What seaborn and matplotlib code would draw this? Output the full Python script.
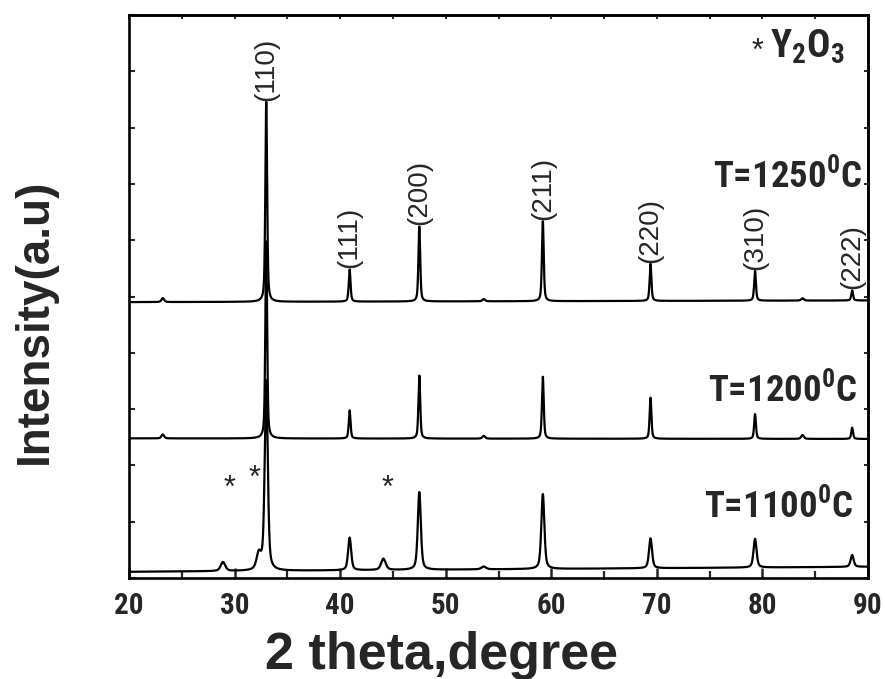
import numpy as np
import pandas as pd
import matplotlib
matplotlib.use("Agg")
import matplotlib.pyplot as plt
from matplotlib import font_manager
from matplotlib.ticker import MultipleLocator
import seaborn as sns

# Diffraction peaks (2-theta positions, Miller indices)
peak_pos = [33.0, 40.9, 47.5, 59.2, 69.4, 79.3, 88.5]
peak_hkl = ["(110)", "(111)", "(200)", "(211)", "(220)", "(310)", "(222)"]

# Peak heights above background for each sintering temperature (a.u.)
height_1250 = [355, 57, 133, 142, 66, 53, 18]
height_1200 = [350, 50, 112, 110, 73, 44, 20]
height_1100 = [337, 58, 138, 133, 53, 51, 21]

# Weak secondary reflections
minor_pos_1250 = [23.2, 53.6, 83.8]
minor_h_1250 = [7, 4, 4]
minor_pos_1200 = [23.2, 53.6, 83.8]
minor_h_1200 = [7, 5, 7]
minor_pos_1100 = [28.9, 32.3, 44.1, 53.6]
minor_h_1100 = [16, 28, 20, 5]

# Y2O3 reflections marked with an asterisk (2-theta, marker height)
y2o3_pos = [29.5, 31.9, 44.5]
y2o3_mark = [158, 176, 158]

# Background level at 20 and 90 degrees for each stacked pattern
background_1250 = [490, 493]
background_1200 = [248, 247]
background_1100 = [11, 20]

# Peak half-widths (degrees)
hw_1250 = 0.10
hw_1200 = 0.10
hw_1100 = 0.17

temps = ["T=1250$^\\mathregular{0}$C", "T=1200$^\\mathregular{0}$C", "T=1100$^\\mathregular{0}$C"]
temp_label_x = [89.43, 88.95, 88.58]
temp_label_y = [693, 312, 106]

two_theta = np.arange(20.0, 90.0001, 0.02)


def profile(pos, heights, hw):
    y = np.zeros_like(two_theta)
    for c, h in zip(pos, heights):
        d = (two_theta - c) / hw
        lor = 1.0 / (1.0 + d * d)
        gau = np.exp(-np.log(2) * d * d)
        y += h * (0.5 * lor + 0.5 * gau)
    return y


def pattern(background, heights, mpos, mh, hw):
    bg = background[0] + (background[1] - background[0]) * (two_theta - 20.0) / 70.0
    return bg + profile(peak_pos, heights, hw) + profile(mpos, mh, hw * 1.5)


frames = []
for name, bg, hts, mp, mh, hw in [
    ("1250", background_1250, height_1250, minor_pos_1250, minor_h_1250, hw_1250),
    ("1200", background_1200, height_1200, minor_pos_1200, minor_h_1200, hw_1200),
    ("1100", background_1100, height_1100, minor_pos_1100, minor_h_1100, hw_1100),
]:
    frames.append(pd.DataFrame({"two_theta": two_theta,
                                "intensity": pattern(bg, hts, mp, mh, hw),
                                "sample": name}))
data = pd.concat(frames, ignore_index=True)

sns.set_theme(style="ticks")

# A condensed bold sans-serif for the tick and temperature labels
bold_names = {f.name for f in font_manager.fontManager.ttflist if f.weight in (700, "bold")}
narrow = "DejaVu Sans"
for cand in ["Roboto Condensed", "PT Sans Narrow", "Fira Sans Condensed",
             "Asap Condensed", "Barlow Semi Condensed"]:
    if cand in bold_names:
        narrow = cand
        break

plt.rcParams["font.family"] = ["Liberation Sans", "DejaVu Sans"]
plt.rcParams["mathtext.fontset"] = "custom"

fig = plt.figure(figsize=(8.85, 6.79), dpi=100)
ax = fig.add_axes([129 / 885, 101 / 679, 739 / 885, 563 / 679])

sns.lineplot(data=data, x="two_theta", y="intensity", units="sample",
             estimator=None, color="black", linewidth=1.6, ax=ax,
             legend=False, sort=False)

ax.set_xlim(20, 90)
ax.set_ylim(0, 1000)
ax.xaxis.set_major_locator(MultipleLocator(10))
ax.xaxis.set_minor_locator(MultipleLocator(5))
ax.yaxis.set_major_locator(MultipleLocator(100))
ax.set_yticklabels([])

for s in ax.spines.values():
    s.set_linewidth(1.9)
    s.set_color("black")

ax.tick_params(axis="x", which="major", direction="in", length=7, width=1.8,
               top=False, bottom=True, labelsize=21, pad=10)
ax.tick_params(axis="x", which="minor", direction="in", length=5, width=1.6,
               top=False, bottom=True)
ax.tick_params(axis="y", which="major", direction="in", length=4, width=1.5,
               left=True, right=False)
for t in ax.get_xticklabels():
    t.set_fontfamily(narrow)
    t.set_fontweight("bold")

# Short ticks along the top and right frame
top = ax.secondary_xaxis("top")
top.xaxis.set_major_locator(MultipleLocator(5))
top.tick_params(direction="in", length=3, width=1.4, labeltop=False)
top.spines["top"].set_linewidth(1.9)
right = ax.secondary_yaxis("right")
right.yaxis.set_major_locator(MultipleLocator(100))
right.tick_params(direction="in", length=3, width=1.4, labelright=False)
right.spines["right"].set_linewidth(1.9)

ax.set_xlabel("2 theta,degree", fontsize=37.5, fontweight="bold",
              family="Liberation Sans")
ax.xaxis.set_label_coords(0.4235, -0.095)
ax.xaxis.label.set_va("top")
ax.set_ylabel("Intensity(a.u)", fontsize=33, fontweight="bold",
              family="Liberation Sans")
ax.yaxis.set_label_coords(-0.098, 0.456)

# Miller index labels above the 1250 C pattern
for c, lab, h in zip(peak_pos, peak_hkl, height_1250):
    base = background_1250[0] + (background_1250[1] - background_1250[0]) * (c - 20) / 70
    ax.text(c, base + h + 2, lab, rotation=90, ha="center", va="bottom",
            fontsize=20, family="Liberation Sans")

# Temperature labels
for lab, x, y in zip(temps, temp_label_x, temp_label_y):
    ax.text(x, y, lab, ha="right", va="baseline", fontsize=26.5,
            fontweight="bold", family=narrow)

# Y2O3 markers
for x, y in zip(y2o3_pos, y2o3_mark):
    ax.text(x, y, "*", ha="center", va="center", fontsize=22,
            family="Liberation Sans")

ax.text(79.5, 935, "*", ha="center", va="center", fontsize=22,
        family="Liberation Sans")
ax.text(80.7, 924, "Y$_\\mathregular{2}$O$_\\mathregular{3}$", ha="left",
        va="baseline", fontsize=28, fontweight="bold", family=narrow)

fig.savefig("out.png", dpi=100)
